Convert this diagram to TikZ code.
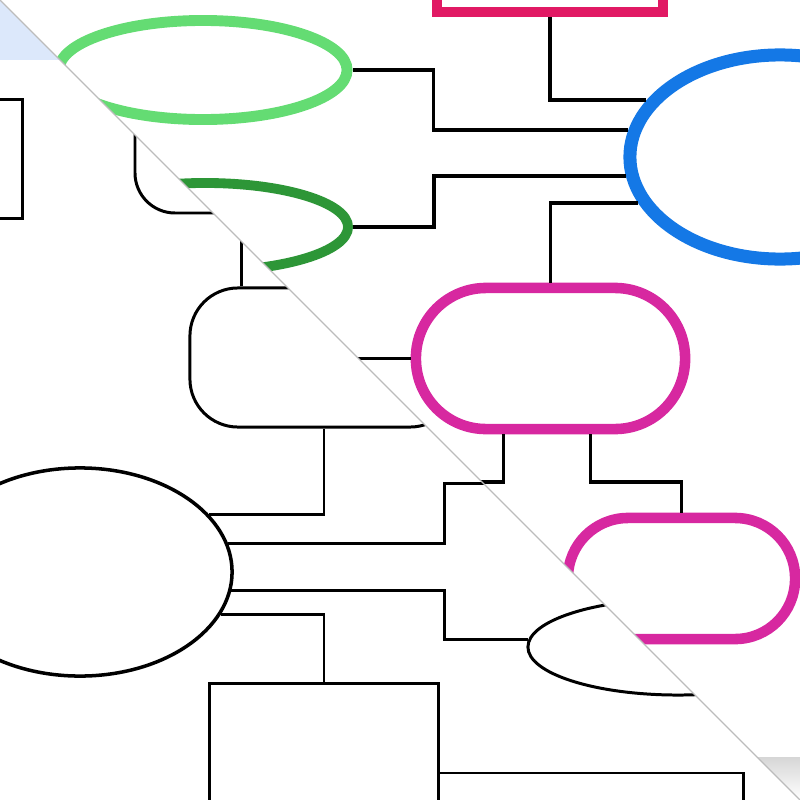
\documentclass[tikz,border=0pt]{standalone}
\usepackage{xcolor}
\usepackage{tikz}
\usetikzlibrary{arrows.meta}
\usetikzlibrary{positioning, shapes.geometric}
\definecolor{roseline}{RGB}{225,25,100}
\definecolor{skyline}{RGB}{20,120,230}
\definecolor{mintline}{RGB}{100,220,115}
\definecolor{leafline}{RGB}{45,150,55}
\definecolor{plumline}{RGB}{215,40,160}
\definecolor{paleband}{RGB}{220,232,251}
\definecolor{foldline}{RGB}{188,188,188}
\tikzset{
oval/.style = { ellipse, draw = #1, fill = white, inner sep = 0pt },
pill/.style = { rectangle, draw = plumline, line width = 3pt, fill = white, rounded corners = #1 },
box/.style = { rectangle, draw = black, fill = white, line width = 0.85pt },
link/.style = { draw = black, line width = 1.1pt },
thin link/.style = { draw = black, line width = 0.85pt },
}

\begin{document}
\begin{tikzpicture}[x = 0.01cm, y = -0.01cm]
      \useasboundingbox (0, 0) rectangle (800, 800);
      % lower sheet
      \begin{scope}
      \clip (0, 0) -- (800, 800) -- (0, 800) -- cycle;
      \fill[paleband] (0, 0) rectangle (800, 60);
      \node[box, minimum width = 0.85cm, minimum height = 1.18cm] (sidebox) at (-20, 159) {};
      \node[box, rounded corners = 0.48cm, minimum width = 2.68cm, minimum height = 1.39cm] (roundbox) at (324, 357.5) {};
      \node[oval = black, line width = 1pt, minimum width = 3.04cm, minimum height = 2.08cm] (bigoval) at (80, 572) {};
      \node[oval = black, line width = 0.85pt, minimum width = 3.0cm, minimum height = 0.96cm] (smalloval) at (678, 647) {};
      \node[box, minimum width = 2.28cm, minimum height = 2.16cm] (lowbox) at (324, 792) {};
      \draw[thin link, rounded corners = 0.4cm] (135, 100) -- (135, 213) -- (260, 213);
      \draw[thin link] ([xshift = -0.82cm]roundbox.north) -- ++(0, -80);
      \draw[thin link] (bigoval.24) -| (roundbox.south);
      \draw[thin link] (bigoval.11) -| (444, 483) -- ++(60, 0);
      \draw[thin link] (bigoval.-7) -| (444, 620) |- (smalloval.177);
      \draw[thin link] (bigoval.-17) -| (lowbox.north);
      \draw[thin link] ([yshift = 0.19cm]lowbox.east) -| ++(304, 60);
      \end{scope}
      % upper sheet
      \begin{scope}
      \clip (0, 0) -- (800, 0) -- (800, 800) -- cycle;
      \node[rectangle, draw = roseline, line width = 2.85pt, fill = white, minimum width = 2.26cm, minimum height = 0.92cm] (rosebox) at (550, -34) {};
      \node[oval = skyline, line width = 3.7pt, minimum width = 3.0cm, minimum height = 2.04cm] (skyoval) at (780, 157) {};
      \node[oval = mintline, line width = 3.1pt, minimum width = 2.88cm, minimum height = 0.99cm] (mintoval) at (203, 70) {};
      \node[oval = leafline, line width = 2.8pt, minimum width = 2.86cm, minimum height = 0.88cm] (leafoval) at (205, 227) {};
      \node[pill = 0.7cm, minimum width = 2.69cm, minimum height = 1.41cm] (toppill) at (550.5, 358.5) {};
      \node[pill = 0.6cm, minimum width = 2.27cm, minimum height = 1.21cm] (sidepill) at (681.5, 578.5) {};
      \draw[link] (rosebox.south) |- (skyoval.157);
      \draw[link] (mintoval.east) -- ++(81, 0) |- (skyoval.170);
      \draw[link] (leafoval.east) -- ++(81, 0) |- (skyoval.187);
      \draw[link] (skyoval.198) -| (toppill.north);
      \draw[link] (toppill.west) -- ++(-100, 0);
      \draw[link] ([xshift = -0.47cm]toppill.south) |- ++(-80, 48);
      \draw[link] ([xshift = 0.4cm]toppill.south) -- ++(0, 48) -| (sidepill.north);
      \shade[top color = black!16, bottom color = white] (740, 757) rectangle (800, 800);
      \end{scope}
      \draw[foldline, line width = 0.4pt] (0, 0) -- (800, 800);
    \end{tikzpicture}
\end{document}
